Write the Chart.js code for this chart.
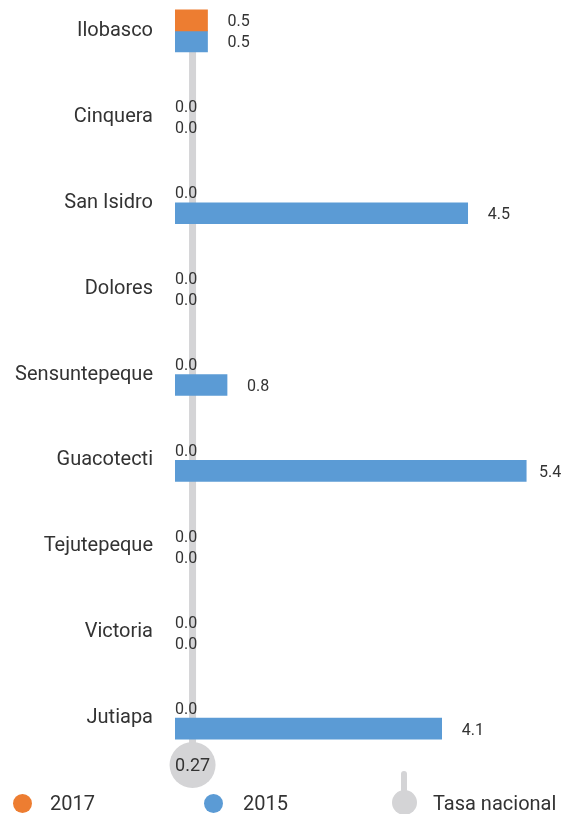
<!DOCTYPE html>
<html>
<head>
<meta charset="utf-8">
<script src="https://cdn.jsdelivr.net/npm/chart.js@4"></script>
<style>
    html, body { margin: 0; padding: 0; background: #fff; overflow: hidden; }
    #wrap { position: relative; width: 562px; height: 814px; overflow: hidden; }
    #wrap canvas { position: absolute; left: 0; top: -46px; }
    .leyenda { position: absolute; top: 790px; font-family: Roboto, sans-serif; font-size: 20px; color: #333; line-height: 26px; }
    .punto { position: absolute; width: 19px; height: 19px; border-radius: 50%; }
</style>
</head>
<body>
<div id="wrap">
    <canvas id="grafico" width="562" height="860"></canvas>

    <div class="punto" style="left:13px; top:794px; background:#ED7D31;"></div>
    <div class="leyenda" style="left:50px;">2017</div>

    <div class="punto" style="left:204px; top:794px; background:#5B9BD5;"></div>
    <div class="leyenda" style="left:243px;">2015</div>

    <div style="position:absolute; left:401px; top:771px; width:6px; height:22px; border-radius:3px; background:#D4D4D6;"></div>
    <div class="punto" style="left:392px; top:790px; width:25px; height:25px; background:#D4D4D6;"></div>
    <div class="leyenda" style="left:433px;">Tasa nacional</div>
</div>

<script>
// ====================================
// MUNICIPIOS - 2017 vs 2015
// ====================================

const municipios = ['Ilobasco', 'Cinquera', 'San Isidro', 'Dolores', 'Sensuntepeque',
    'Guacotecti', 'Tejutepeque', 'Victoria', 'Jutiapa'];
const valores2017 = [0.5, 0.0, 0.0, 0.0, 0.0, 0.0, 0.0, 0.0, 0.0];
const valores2015 = [0.5, 0.0, 4.5, 0.0, 0.8, 5.4, 0.0, 0.0, 4.1];
const tasaNacional = 0.27;

const GRIS = '#D4D4D6';

// linea vertical + circulo de la tasa nacional
const lineaTasa = {
    id: 'lineaTasa',
    beforeDatasetsDraw(chart) {
        const ctx = chart.ctx;
        const area = chart.chartArea;
        const x = chart.scales.x.getPixelForValue(tasaNacional);
        // la linea arranca en la primera barra
        const primera = chart.getDatasetMeta(0).data[0];
        const y0 = primera.y - primera.height / 2;
        ctx.save();
        ctx.fillStyle = GRIS;
        ctx.fillRect(x - 3.5, y0, 7, area.bottom - y0 + 5);
        ctx.restore();
    },
    afterDraw(chart) {
        const ctx = chart.ctx;
        const area = chart.chartArea;
        const x = chart.scales.x.getPixelForValue(tasaNacional);
        const y = area.bottom + 4;
        ctx.save();
        ctx.beginPath();
        ctx.arc(x, y, 23, 0, Math.PI * 2);
        ctx.fillStyle = GRIS;
        ctx.fill();
        ctx.fillStyle = '#333';
        ctx.font = '18px Roboto, sans-serif';
        ctx.textAlign = 'center';
        ctx.textBaseline = 'middle';
        ctx.fillText(tasaNacional.toFixed(2), x, y + 1);
        ctx.restore();
    }
};

// etiquetas de valor
const etiquetasValor = {
    id: 'etiquetasValor',
    afterDatasetsDraw(chart) {
        const ctx = chart.ctx;
        const area = chart.chartArea;
        ctx.save();
        ctx.font = '16px Roboto, sans-serif';
        ctx.fillStyle = '#333';
        ctx.textAlign = 'left';
        ctx.textBaseline = 'middle';
        chart.data.datasets.forEach((ds, i) => {
            const meta = chart.getDatasetMeta(i);
            meta.data.forEach((bar, j) => {
                const v = ds.data[j];
                let x = v === 0 ? area.left : bar.x + 20;
                x = Math.min(x, 539);
                ctx.fillText(v.toFixed(1), x, bar.y + 2);
            });
        });
        ctx.restore();
    }
};

function colorBarra(color) {
    return c => (c.raw === 0 ? 'rgba(0,0,0,0)' : color);
}

new Chart(document.getElementById('grafico'), {
    type: 'bar',
    data: {
        labels: municipios,
        datasets: [
            {
                label: '2017',
                data: valores2017,
                backgroundColor: colorBarra('#ED7D31'),
                borderWidth: 0,
                barThickness: 21
            },
            {
                label: '2015',
                data: valores2015,
                backgroundColor: colorBarra('#5B9BD5'),
                borderWidth: 0,
                barThickness: 21
            }
        ]
    },
    options: {
        indexAxis: 'y',
        responsive: false,
        animation: false,
        layout: {
            padding: { top: 0, right: 0, bottom: 53, left: 0 }
        },
        plugins: {
            legend: { display: false },
            tooltip: { enabled: false }
        },
        scales: {
            x: {
                display: false,
                min: 0,
                max: 5.95
            },
            y: {
                grid: { display: false, drawTicks: false },
                border: { display: false },
                ticks: {
                    padding: 22,
                    color: '#333',
                    font: { family: 'Roboto, sans-serif', size: 20 }
                },
                afterFit(scale) {
                    scale.width = 175;
                }
            }
        }
    },
    plugins: [lineaTasa, etiquetasValor]
});
</script>
</body>
</html>
